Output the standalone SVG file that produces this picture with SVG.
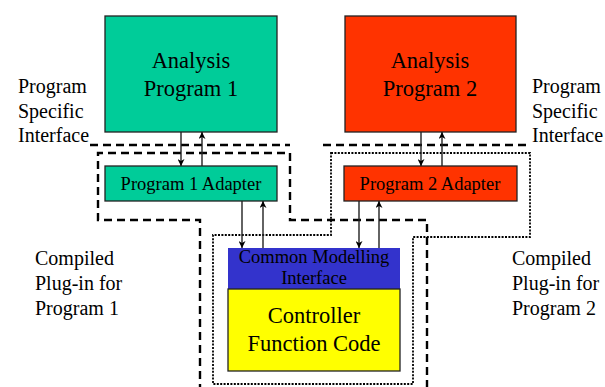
<svg xmlns="http://www.w3.org/2000/svg" width="605" height="387" viewBox="0 0 605 387">
  <style>
    text { font-family: "Liberation Serif", "Times New Roman", Times, Tinos, "DejaVu Serif", "Noto Serif", serif; fill: #000; }
    .box { stroke: #222; stroke-width: 1.3; }
    .green { fill: #00CC99; }
    .red { fill: #FF3300; }
    .blue { fill: #3333CC; }
    .yellow { fill: #FFFF00; }
    .big { font-size: 22.5px; text-anchor: middle; }
    .mid { font-size: 18.5px; text-anchor: middle; }
    .label { font-size: 20px; }
    .dash { fill: none; stroke: #000; stroke-width: 2.4; stroke-dasharray: 8 5; }
    .dot { fill: none; stroke: #000; stroke-width: 1.8; stroke-dasharray: 2 1.4; }
    .flow { stroke: #222; stroke-width: 1.4; fill: none; marker-end: url(#head); }
  </style>
  <defs>
    <marker id="head" viewBox="0 0 10 10" refX="10" refY="5" markerWidth="7" markerHeight="7" markerUnits="userSpaceOnUse" orient="auto">
      <path d="M0,0 L10,5 L0,10 L3,5 z" fill="#000"/>
    </marker>
  </defs>
  <rect width="605" height="387" fill="#fff"/>

  <!-- interface boundaries and plug-in outlines -->
  <g id="boundaries">
    <line class="dash" x1="90" y1="145" x2="290" y2="145"/>
    <line class="dash" x1="323" y1="145" x2="530" y2="145"/>
    <path class="dash" d="M200,392 V220 H98 V153 H290 V220 H427 V392"/>
    <path class="dot" d="M331,153 H530 V237 H413 V384 H213 V235 H331 Z"/>
  </g>

  <!-- side labels -->
  <g id="labels">
    <text class="label" x="18" y="93">Program</text>
    <text class="label" x="18" y="118">Specific</text>
    <text class="label" x="18" y="142">Interface</text>
    <text class="label" x="532" y="93">Program</text>
    <text class="label" x="532" y="118">Specific</text>
    <text class="label" x="532" y="142">Interface</text>
    <text class="label" x="35" y="265">Compiled</text>
    <text class="label" x="35" y="290">Plug-in for</text>
    <text class="label" x="35" y="315">Program 1</text>
    <text class="label" x="512" y="265">Compiled</text>
    <text class="label" x="512" y="290">Plug-in for</text>
    <text class="label" x="512" y="315">Program 2</text>
  </g>

  <g id="analysis1">
    <rect class="box green" x="105" y="16" width="172" height="116"/>
    <text class="big" x="191" y="68">Analysis</text>
    <text class="big" x="191" y="96">Program 1</text>
  </g>

  <g id="analysis2">
    <rect class="box red" x="345" y="16" width="171" height="116"/>
    <text class="big" x="430" y="68">Analysis</text>
    <text class="big" x="430" y="96">Program 2</text>
  </g>

  <g id="adapter1">
    <rect class="box green" x="105" y="166" width="172" height="35"/>
    <text class="mid" x="191" y="190">Program 1 Adapter</text>
  </g>

  <g id="adapter2">
    <rect class="box red" x="344" y="166" width="173" height="35"/>
    <text class="mid" x="430" y="190">Program 2 Adapter</text>
  </g>

  <g id="cmi">
    <rect x="228" y="248" width="172" height="41" class="blue"/>
    <text class="mid" x="314" y="263">Common Modelling</text>
    <text class="mid" x="314" y="284">Interface</text>
  </g>

  <g id="controller">
    <rect class="box yellow" x="228" y="289" width="172" height="82"/>
    <text class="big" x="314" y="323">Controller</text>
    <text class="big" x="314" y="351">Function Code</text>
  </g>

  <!-- data flow connectors -->
  <g id="connectors">
    <line class="flow" x1="181" y1="132" x2="181" y2="166"/>
    <line class="flow" x1="202" y1="166" x2="202" y2="132"/>
    <line class="flow" x1="421" y1="132" x2="421" y2="166"/>
    <line class="flow" x1="442" y1="166" x2="442" y2="132"/>
    <line class="flow" x1="242" y1="201" x2="242" y2="248"/>
    <line class="flow" x1="263" y1="248" x2="263" y2="201"/>
    <line class="flow" x1="359" y1="201" x2="359" y2="248"/>
    <line class="flow" x1="379" y1="248" x2="379" y2="201"/>
  </g>
</svg>
